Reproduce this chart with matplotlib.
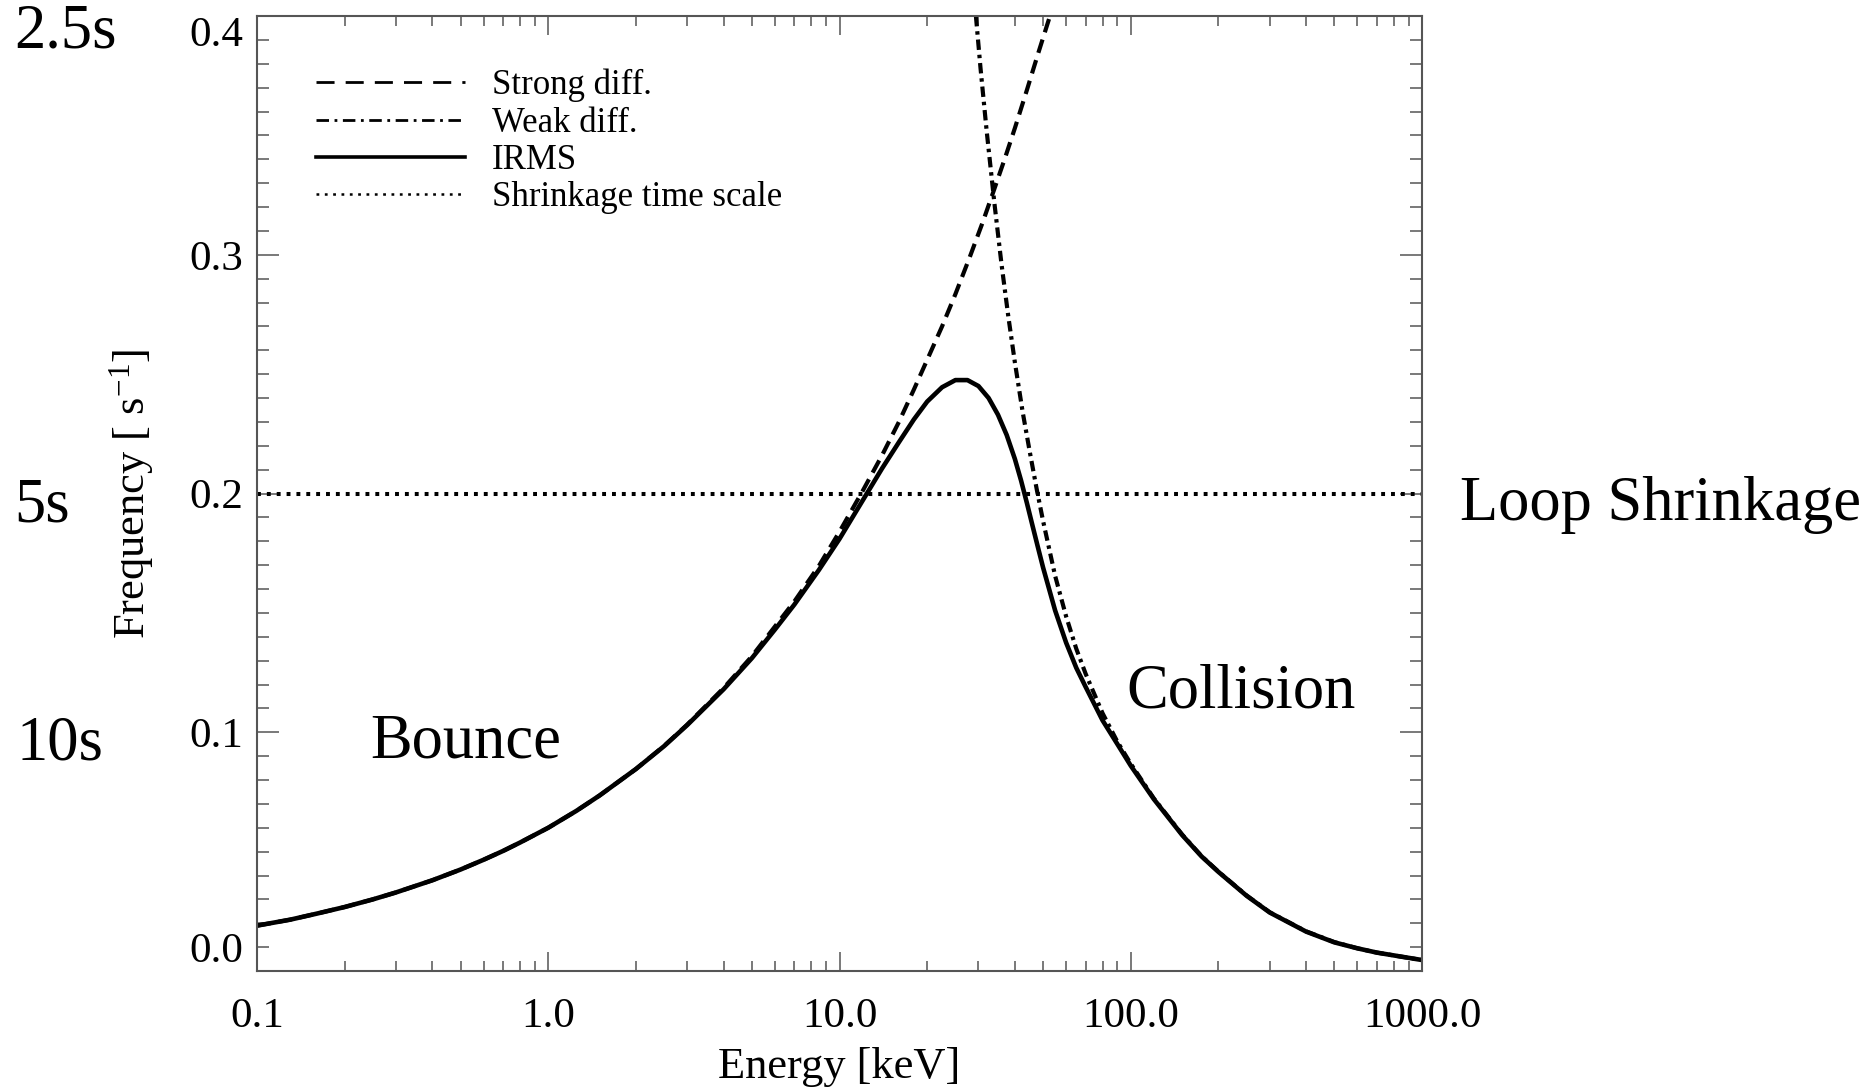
import matplotlib
matplotlib.use("Agg")
import matplotlib.pyplot as plt
from matplotlib.lines import Line2D
from matplotlib.ticker import FixedLocator, LogLocator, NullFormatter, MultipleLocator

plt.rcParams['font.family'] = ['Liberation Serif', 'DejaVu Serif']
plt.rcParams['mathtext.default'] = 'regular'
plt.rcParams['lines.scale_dashes'] = False

# ---------------- data ----------------
irms_energy = [0.1, 0.13, 0.16, 0.2, 0.25, 0.3, 0.4, 0.5, 0.6, 0.7, 0.8, 1.0, 1.25, 1.5,
               2.0, 2.5, 3.0, 4.0, 5.0, 6.0, 7.0, 8.5, 10.0, 12.0, 14.0, 16.0, 18.0,
               20.0, 22.5, 25.0, 27.5, 30.0, 32.5, 35.0, 37.5, 40.0, 42.0, 44.0, 46.0,
               48.0, 50.0, 55.0, 60.0, 65.0, 70.0, 80.0, 90.0, 100.0, 120.0, 150.0,
               175.0, 200.0, 250.0, 300.0, 400.0, 500.0, 600.0, 700.0, 850.0, 1000.0]
irms_freq = [0.0190, 0.0215, 0.0240, 0.0268, 0.0300, 0.0329, 0.0380, 0.0425, 0.0466,
             0.0503, 0.0538, 0.0600, 0.0671, 0.0735, 0.0846, 0.0942, 0.1030, 0.1180,
             0.1310, 0.1430, 0.1535, 0.1680, 0.1810, 0.1970, 0.2105, 0.2215, 0.2310,
             0.2385, 0.2445, 0.2475, 0.2475, 0.2450, 0.2400, 0.2330, 0.2245, 0.2145,
             0.2055, 0.1960, 0.1865, 0.1775, 0.1690, 0.1510, 0.1375, 0.1270, 0.1190,
             0.1050, 0.0950, 0.0860, 0.0720, 0.0570, 0.0480, 0.0415, 0.0315, 0.0245,
             0.0165, 0.0120, 0.0095, 0.0077, 0.0060, 0.0046]

strong_energy = [0.1, 0.13, 0.16, 0.2, 0.25, 0.3, 0.4, 0.5, 0.6, 0.7, 0.8, 1.0, 1.25,
                 1.5, 2.0, 2.5, 3.0, 4.0, 5.0, 7.0, 8.5, 10.0, 12.0, 14.0, 16.0, 18.0,
                 20.0, 22.5, 25.0, 28.0, 31.0, 34.0, 37.0, 40.0, 44.0, 48.0, 52.8]
strong_freq = [0.0190, 0.0215, 0.0240, 0.0268, 0.0300, 0.0329, 0.0380, 0.0425, 0.0466,
               0.0503, 0.0538, 0.0600, 0.0671, 0.0735, 0.0846, 0.0943, 0.1032, 0.1185,
               0.1318, 0.1548, 0.1697, 0.1840, 0.2010, 0.2160, 0.2300, 0.2435, 0.2560,
               0.2700, 0.2835, 0.2990, 0.3135, 0.3275, 0.3405, 0.3530, 0.3690, 0.3840,
               0.4000]

weak_energy = [29.4, 30.5, 32.0, 34.0, 36.0, 38.0, 40.0, 42.5, 45.0, 47.6, 50.0, 55.0,
               60.0, 65.0, 70.0, 80.0, 90.0, 100.0, 120.0, 150.0, 175.0, 200.0, 250.0,
               300.0, 400.0, 500.0, 600.0, 700.0, 850.0, 1000.0]
weak_freq = [0.400, 0.378, 0.352, 0.322, 0.296, 0.274, 0.255, 0.2345, 0.2175, 0.2015,
             0.1885, 0.1655, 0.1485, 0.1350, 0.1245, 0.1080, 0.0960, 0.0868, 0.0723,
             0.0572, 0.0481, 0.0416, 0.0316, 0.0246, 0.0166, 0.0121, 0.0095, 0.0077,
             0.0060, 0.0046]

shrink_freq = 0.2

x_ticks = [0.1, 1.0, 10.0, 100.0, 1000.0]
x_tick_labels = ["0.1", "1.0", "10.0", "100.0", "1000.0"]
y_ticks = [0.0, 0.1, 0.2, 0.3, 0.4]
y_tick_labels = ["0.0", "0.1", "0.2", "0.3", "0.4"]

legend_labels = ["Strong diff.", "Weak diff.", "IRMS", "Shrinkage time scale"]

# ---------------- figure ----------------
W, H = 1869, 1091
fig = plt.figure(figsize=(W / 100, H / 100), dpi=100)
ax = fig.add_axes([257 / W, 1 - 971 / H, (1422 - 257) / W, (971 - 16) / H])

ink = 'black'
dash_style = (0, (10, 5.5))
dashdot_style = (0, (7.5, 3.5, 2.5, 3.5))
dot_style = (0, (2.8, 4.3))

ax.plot(strong_energy, strong_freq, color=ink, lw=3.0, linestyle=dash_style,
        solid_joinstyle='round')
ax.plot(weak_energy, weak_freq, color=ink, lw=3.0, linestyle=dashdot_style)
ax.plot(irms_energy, irms_freq, color=ink, lw=3.3, linestyle='-',
        solid_joinstyle='round', solid_capstyle='round')
ax.axhline(shrink_freq, color=ink, lw=2.9, linestyle=dot_style)

ax.set_xscale('log')
ax.set_xlim(0.1, 1000.0)
ax.set_ylim(0.0, 0.4)

ax.xaxis.set_major_locator(FixedLocator(x_ticks))
ax.set_xticklabels(x_tick_labels)
ax.xaxis.set_minor_locator(LogLocator(base=10, subs=[2, 3, 4, 5, 6, 7, 8, 9], numticks=20))
ax.xaxis.set_minor_formatter(NullFormatter())
ax.set_yticks(y_ticks)
ax.set_yticklabels(y_tick_labels)
ax.yaxis.set_minor_locator(MultipleLocator(0.01))

spine_col = '#555555'
for s in ax.spines.values():
    s.set_linewidth(1.5)
    s.set_color(spine_col)

ax.tick_params(axis='x', which='major', direction='in', length=14, width=1.1,
               color=spine_col, top=True, bottom=True, labelsize=31, pad=19)
ax.tick_params(axis='x', which='minor', direction='in', length=7.5, width=1.1,
               color=spine_col, top=True, bottom=True)
ax.tick_params(axis='y', which='major', direction='in', length=16, width=1.1,
               color=spine_col, left=True, right=True, labelsize=31, pad=10)
ax.tick_params(axis='y', which='minor', direction='in', length=8.5, width=1.1,
               color=spine_col, left=True, right=True)

ax.set_xlabel("Energy [keV]", fontsize=32)
ax.xaxis.set_label_coords(0.5, -0.08)
ax.xaxis.label.set_va('top')
ax.set_ylabel("Frequency [ s$^{-1}$]", fontsize=32)
ax.yaxis.set_label_coords(-0.087, 0.5)

# legend
handles = [
    Line2D([], [], color=ink, lw=2.0, linestyle=(0, (13, 8))),
    Line2D([], [], color=ink, lw=2.0, linestyle=(0, (9, 4, 2, 4))),
    Line2D([], [], color=ink, lw=2.6, linestyle='-'),
    Line2D([], [], color=ink, lw=1.8, linestyle=(0, (2, 4))),
]
leg = ax.legend(handles, legend_labels, loc='upper left',
                bbox_to_anchor=((316 - 257) / 1165, (971 - 69) / 955),
                frameon=False, fontsize=25, handlelength=4.3, handletextpad=0.76,
                labelspacing=0.12, borderpad=0, borderaxespad=0)

# annotations
big = 45
fig.text(14 / W, 1 - 48 / H, "2.5s", fontsize=big, va='baseline', ha='left')
fig.text(14 / W, 1 - 521 / H, "5s", fontsize=big, va='baseline', ha='left')
fig.text(16 / W, 1 - 759 / H, "10s", fontsize=big, va='baseline', ha='left')
fig.text(1460 / W, 1 - 520 / H, "Loop Shrinkage", fontsize=big, va='baseline', ha='left')
fig.text(370 / W, 1 - 757 / H, "Bounce", fontsize=big, va='baseline', ha='left')
fig.text(1126 / W, 1 - 707 / H, "Collision", fontsize=big, va='baseline', ha='left')

fig.canvas.draw()
ylabels = ax.get_yticklabels()
ylabels[0].set_va('bottom')
ylabels[-1].set_va('top')

fig.savefig("out.png", dpi=100, facecolor='white')
